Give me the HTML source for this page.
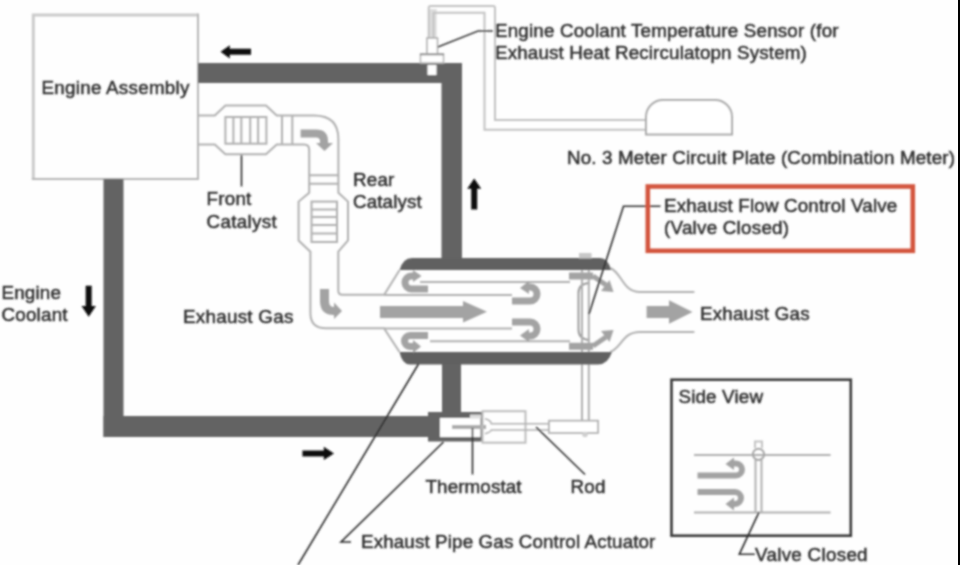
<!DOCTYPE html>
<html><head><meta charset="utf-8">
<style>
html,body{margin:0;padding:0;background:#fefefe;width:960px;height:565px;overflow:hidden}
svg{display:block}
text{font-family:"Liberation Sans",sans-serif;font-size:18.8px;fill:#2e2e2e;stroke:#2e2e2e;stroke-width:0.5px}
</style></head><body>
<svg width="960" height="565" viewBox="0 0 960 565">
<defs><filter id="bl" x="-2%" y="-2%" width="104%" height="104%"><feConvolveMatrix order="5" kernelMatrix="1 5 8 5 1 5 25 40 25 5 8 40 64 40 8 5 25 40 25 5 1 5 8 5 1" divisor="400" edgeMode="none"/></filter></defs>
<rect x="0" y="0" width="960" height="565" fill="#fefefe"/>
<g filter="url(#bl)">

<!-- Engine assembly box -->
<path d="M33.3 179 V15 H198" fill="none" stroke="#cbcbcb" stroke-width="3"/>
<path d="M198 13.5 V179 H31.8" fill="none" stroke="#b6b6b6" stroke-width="2"/>

<!-- coolant loop (dark pipes) -->
<g fill="#646464">
  <rect x="198" y="63" width="264" height="20"/>
  <rect x="441.5" y="63" width="20.5" height="196"/>
  <rect x="442" y="364" width="19" height="49"/>
  <rect x="103.5" y="179" width="20" height="258"/>
  <rect x="103.5" y="416" width="325" height="21"/>
  <rect x="428" y="412" width="54.5" height="29.5"/>
</g>

<!-- sensor cable -->
<rect x="428.7" y="9" width="8" height="30" fill="#dedede"/>
<g fill="none" stroke="#c2c2c2" stroke-width="2">
  <path d="M428.7 40 V8 Q428.7 6 430.7 6 H493 Q495 6 495 8 V120 H647"/>
  <path d="M433.5 40 V12.7 H484.5 V129.7 H647"/>
</g>
<!-- sensor -->
<rect x="427" y="38" width="10.5" height="16" fill="#fff" stroke="#aaa" stroke-width="1.5"/>
<rect x="420.5" y="54" width="23" height="9" fill="#fff" stroke="#b4b4b4" stroke-width="1.5"/>
<path d="M420 54.5 H444" stroke="#8a8a8a" stroke-width="1.6"/>
<rect x="427.5" y="65" width="9" height="10" fill="#fff"/>
<path d="M437.8 47 L478 31 H493" fill="none" stroke="#3a3a3a" stroke-width="1.5"/>

<!-- meter -->
<path d="M646 134.4 V117 A17 17 0 0 1 663 100 H715 A17 17 0 0 1 732 117 V134.4 Z" fill="#fff" stroke="#a8a8a8" stroke-width="2"/>

<!-- Exhaust pipe / catalysts outline -->
<g fill="none" stroke="#b0b0b0" stroke-width="2">
  <!-- upper/outer line -->
  <path d="M198 115.4 H214.8 L225.4 105.6 H266 L276.7 115.4 H314 Q338.4 115.4 338.4 139 V192.7 L348 201.6 V240.5 L338.3 251.7 V290.7 Q338.3 294.7 342.3 294.7 H384.2 L399.6 270"/>
  <path d="M198 144.6 H214.8 L225.4 154.3 H266 L276.7 144.6 H304 Q309.2 144.6 309.2 150 V192.7 L298.6 201.6 V240.5 L310.4 251.7 V313 Q310.4 328.3 326 328.3 H384 L399.5 352"/>
  <!-- front catalyst element -->
  <rect x="225.4" y="117" width="41" height="26.7"/>
  <path d="M233.4 117 V143.7 M241.3 117 V143.7 M250.2 117 V143.7 M258.1 117 V143.7"/>
  <path d="M282 115.4 V144.6 M292.3 115.4 V144.6"/>
  <!-- rear band -->
  <path d="M309.2 175.3 H338.4 M309.2 183.7 H338.4"/>
  <!-- rear element -->
  <rect x="311.5" y="201.6" width="25.5" height="40.4"/>
  <path d="M311.5 209.6 H337 M311.5 217 H337 M311.5 225.1 H337 M311.5 233.5 H337"/>
  <!-- muffler inner lines -->
  <path d="M384.2 295 H512 M384 328.6 H512"/>
  <path d="M420 282 H570 M430 341.2 H570"/>
  <!-- outlet taper -->
  <path d="M610 268 C622 272 622 292 640 292 H694.4"/>
  <path d="M610 352 C622 348 622 332 640 332 H694.4"/>
  <!-- valve plate -->
  <path d="M589.5 283 Q578.5 283.5 578.5 293 V329.5 Q578.5 339.5 589.5 340" stroke="#9c9c9c"/>
  <!-- rod -->
  <path d="M582 256 V421 M588.8 256 V421"/>
</g>

<!-- muffler dark bands -->
<path d="M399.6 270 Q403 258 412 258 H600 Q608 258 611 270 Z" fill="#616161"/>
<path d="M399.5 352 H612 Q608 364.5 598 364.5 H410 Q402 364.5 399.5 352 Z" fill="#616161"/>

<!-- gray flow arrows -->
<g fill="#a3a3a3" stroke="none">
  <!-- bent arrow after front catalyst -->
  <path d="M300.6 129.5 H316 Q328 129.5 328 141 V143 L333 143 L324.5 151 L316 143 L320 143 V141 Q320 137.5 316 137.5 H300.6 Z"/>
  <!-- bent arrow into muffler pipe -->
  <path d="M320 289 H329 V301 Q329 307 334 307 V302.5 L342 311 L334 319 V315 Q320 315 320 301 Z"/>
  <!-- central arrow -->
  <path d="M380 306 H463 V301 L487 311.8 L463 322.5 V318 H380 Z"/>
  <!-- outlet arrow -->
  <path d="M646.6 306 H669 V300.3 L692.5 312 L669 323.7 V318 H646.6 Z"/>
  <!-- valve pivot blocks -->
  <rect x="569" y="272.5" width="24" height="7"/>
  <rect x="569" y="342.8" width="24" height="7"/>
  <rect x="579" y="253" width="12.5" height="5.5" fill="#c8c8c8"/>
</g>
<g fill="none" stroke="#a3a3a3" stroke-width="7">
  <!-- right U arrows -->
  <path d="M512 301 H530 A7 7 0 0 0 530 287 H527"/>
  <path d="M512 322 H530 A7 7 0 0 1 530 336 H527"/>
  <!-- left U arrows -->
  <path d="M428 289 H411.5 A6.5 6.5 0 0 1 411.5 276 H414"/>
  <path d="M428 335.5 H410 A5.5 5.5 0 0 0 410 346.5 H414"/>
  <!-- valve side small arrows -->
  <path d="M593 276 L606 285" stroke-width="5"/>
  <path d="M593 346 L606 337" stroke-width="5"/>
</g>
<g fill="#a3a3a3">
  <path d="M529 281 L520 288 L529 294 Z"/>
  <path d="M529 329 L520 335.5 L529 342 Z"/>
  <path d="M413 270 L421.5 276 L413 282 Z"/>
  <path d="M413 340 L421 346.5 L413 353 Z"/>
  <path d="M601 291 L613.5 292 L609.5 280 Z"/>
  <path d="M601 331 L613.5 330 L609.5 342 Z"/>
</g>

<!-- thermostat & actuator -->
<rect x="440" y="418" width="40.5" height="19" fill="#fff"/>
<rect x="470" y="414.5" width="11" height="4" fill="#ddd"/>
<path d="M452 427 H486" stroke="#aaa" stroke-width="4" fill="none"/>
<rect x="482.5" y="411.2" width="43" height="31.5" fill="none" stroke="#bdbdbd" stroke-width="2"/>
<path d="M485 418.7 Q491 420 491.3 423.8 H549 M485 433.7 Q491 432 491.3 430 H549" fill="none" stroke="#b0b0b0" stroke-width="1.6"/>
<rect x="549" y="420.7" width="49" height="12.2" fill="#fff" stroke="#b0b0b0" stroke-width="1.8"/>
<circle cx="585" cy="434.5" r="2.8" fill="#cfcfcf"/>

<!-- leader lines -->
<g fill="none" stroke="#2a2a2a" stroke-width="1.6">
  <path d="M660.5 206.2 H623.5 L589 314"/>
  <path d="M241.5 155 V186.5"/>
  <path d="M418.5 364 L298 565"/>
  <path d="M443.5 442 L341 542 H351"/>
  <path d="M472.5 428 V474.5"/>
  <path d="M536 427 L585 474.5"/>
</g>

<!-- black arrows -->
<g fill="#111">
  <path d="M220.5 51.8 L229.8 45.2 V48.8 H251 V54.8 H229.8 V58.4 Z"/>
  <path d="M474.2 178.5 L481.2 188.8 H477.2 V209.5 H471.2 V188.8 H467.2 Z"/>
  <path d="M88.7 316.7 L81.5 306 H85.7 V285.8 H91.7 V306 H95.9 Z"/>
  <path d="M334 453.4 L323.8 446.8 V450.4 H302.4 V456.4 H323.8 V460 Z"/>
</g>

<!-- red box -->
<rect x="647.8" y="186.5" width="265" height="64.3" fill="none" stroke="#d3553e" stroke-width="4.6"/>

<!-- side view box -->
<rect x="671.5" y="379.7" width="179.3" height="156" fill="none" stroke="#3a3a3a" stroke-width="2.6"/>
<g fill="none" stroke="#b0b0b0" stroke-width="2">
  <path d="M694 455 H830.6 M694 512.4 H830.6"/>
  <path d="M755.5 460 V512 M761.5 460 V512"/>
  <path d="M755 448 V441.5 H762 V448" stroke="#c4c4c4"/>
  <circle cx="758.5" cy="454.3" r="5.6" stroke="#a6a6a6"/>
</g>
<g fill="none" stroke="#a3a3a3" stroke-width="6">
  <path d="M697.5 475.5 H736 A6 6 0 0 0 736 463.5 H733"/>
  <path d="M697.5 492 H735 A6 6 0 0 1 735 504 H732"/>
</g>
<g fill="#a3a3a3">
  <path d="M734 457.5 L725.5 464 L734 470 Z"/>
  <path d="M734 497.5 L725.5 504 L734 510.5 Z"/>
</g>
<path d="M758.9 512.4 L739.3 554.3 H754.8" fill="none" stroke="#2a2a2a" stroke-width="1.6"/>

<!-- texts -->
<text x="41.5" y="93.5" letter-spacing="0.27">Engine Assembly</text>
<text x="495" y="36.5" letter-spacing="0.18">Engine Coolant Temperature Sensor (for</text>
<text x="495" y="58.5" letter-spacing="0.15">Exhaust Heat Recirculatopn System)</text>
<text x="567" y="164" letter-spacing="0.16">No. 3 Meter Circuit Plate (Combination Meter)</text>
<text x="664" y="211.5" letter-spacing="0.16">Exhaust Flow Control Valve</text>
<text x="664" y="234" letter-spacing="0.25">(Valve Closed)</text>
<text x="206.5" y="205.3" letter-spacing="0.25">Front</text>
<text x="206.5" y="227.6" letter-spacing="0.33">Catalyst</text>
<text x="353" y="186" letter-spacing="0.2">Rear</text>
<text x="353" y="208.3" letter-spacing="0.13">Catalyst</text>
<text x="1.5" y="298.7" letter-spacing="0.18">Engine</text>
<text x="1.5" y="321" letter-spacing="0.22">Coolant</text>
<text x="183" y="323.2" letter-spacing="0.28">Exhaust Gas</text>
<text x="700" y="319.6" letter-spacing="0.2">Exhaust Gas</text>
<text x="678.5" y="402.6" letter-spacing="0.16">Side View</text>
<text x="425.5" y="492.6" letter-spacing="0.12">Thermostat</text>
<text x="570.5" y="492.6" letter-spacing="0.3">Rod</text>
<text x="361" y="547.6" letter-spacing="0.13">Exhaust Pipe Gas Control Actuator</text>
<text x="755" y="561" letter-spacing="0.3">Valve Closed</text>
</g>
<rect x="958" y="0" width="2" height="565" fill="#000"/>
</svg>
</body></html>
